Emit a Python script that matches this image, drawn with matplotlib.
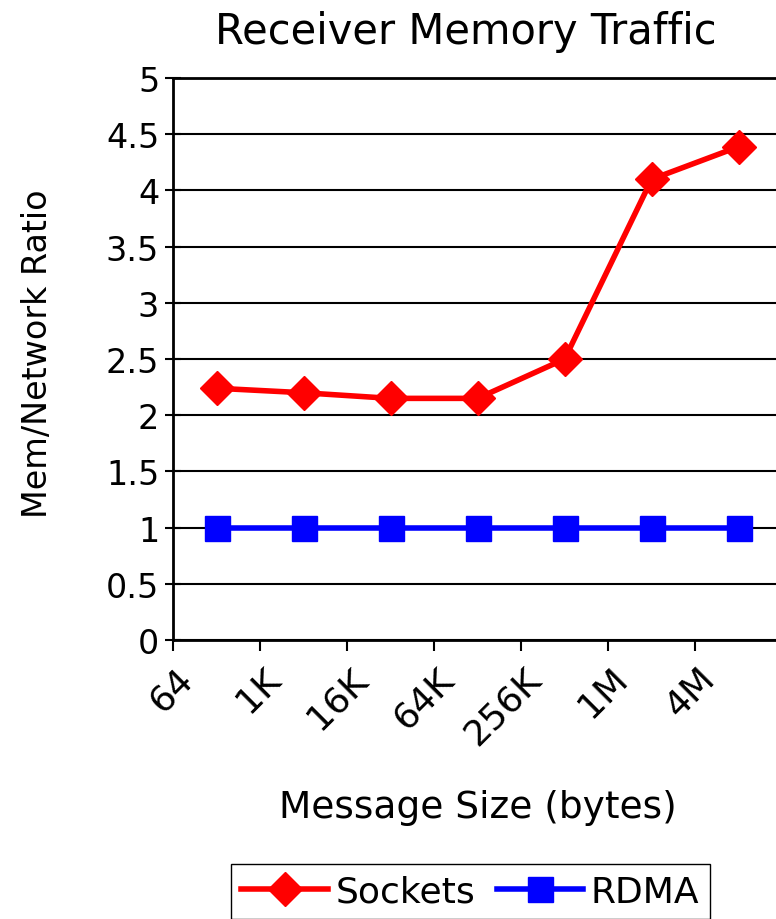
import matplotlib
matplotlib.use('Agg')
import matplotlib.pyplot as plt
import matplotlib.transforms as mtransforms

plt.rcParams['font.family'] = ['DejaVu Sans']

sizes = ['64', '1K', '16K', '64K', '256K', '1M', '4M']
sockets = [2.24, 2.20, 2.15, 2.15, 2.50, 4.10, 4.39]
rdma = [1, 1, 1, 1, 1, 1, 1]

fig = plt.figure(figsize=(7.76, 9.2), dpi=100)
ax = fig.add_axes([0.223, 0.3033, 0.785, 0.6107])

x = list(range(len(sizes)))
ax.plot(x, sockets, color='#ff0000', lw=4, marker='D', markersize=17, label='Sockets')
ax.plot(x, rdma, color='#0000ff', lw=4, marker='s', markersize=18, label='RDMA')

ax.set_xlim(-0.5, len(sizes) - 0.5)
ax.set_ylim(0, 5)
ax.set_yticks([i * 0.5 for i in range(11)])
ax.set_yticklabels(['0', '0.5', '1', '1.5', '2', '2.5', '3', '3.5', '4', '4.5', '5'])
ax.yaxis.grid(True, color='black', lw=1.5)
ax.set_axisbelow(True)

# tick marks sit on category boundaries, labels under category centres
ax.set_xticks([i - 0.5 for i in range(len(sizes) + 1)])
ax.set_xticklabels([])
ax.tick_params(axis='x', direction='out', length=8, width=1.5)
ax.tick_params(axis='y', direction='inout', length=12, width=1.5, labelsize=24, pad=4)
for s in ax.spines.values():
    s.set_linewidth(2)

offset = mtransforms.ScaledTranslation(-0.17, -0.21, fig.dpi_scale_trans)
for i, lab in enumerate(sizes):
    ax.text(i, 0, lab, rotation=45, ha='right', va='top', fontsize=26,
            transform=ax.transData + offset)

fig.text(0.600, 0.965, 'Receiver Memory Traffic', ha='center', va='center', fontsize=30)
fig.text(0.616, 0.122, 'Message Size (bytes)', ha='center', va='center', fontsize=27)
fig.text(0.048, 0.616, 'Mem/Network Ratio', ha='center', va='center', rotation=90, fontsize=24)

fig.legend(loc='lower center', bbox_to_anchor=(0.606, -0.02), ncol=2, fontsize=26,
           frameon=True, fancybox=False, edgecolor='black', framealpha=1,
           handlelength=2.4, handletextpad=0.2, columnspacing=0.6, borderpad=0.3)

fig.savefig('out.png', dpi=100)
